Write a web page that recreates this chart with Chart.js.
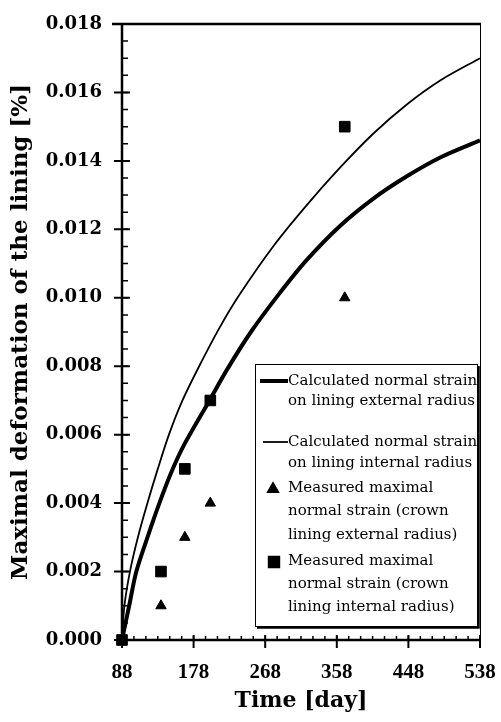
<!DOCTYPE html>
<html>
<head>
<meta charset="utf-8">
<script src="https://cdn.jsdelivr.net/npm/chart.js@4.4.0/dist/chart.umd.min.js"></script>
<style>
  body { margin: 0; background: #fff; }
  #wrap { width: 501px; height: 722px; }
</style>
</head>
<body>
<div id="wrap"><canvas id="myChart" width="501" height="722"></canvas></div>
<script>
// calculated strain curves (day / strain %)
var extDays = [88, 97, 106, 120, 135, 150, 166, 198, 220, 250, 285, 320, 362, 404, 446, 488, 538];
var extStrain = [0, 0.001, 0.002, 0.003, 0.004, 0.0049, 0.0057, 0.0070, 0.0079, 0.0090, 0.0101, 0.0111, 0.0121, 0.0129, 0.01355, 0.0141, 0.0146];
var intDays = [88, 91, 98, 108, 120, 133, 147, 164, 185, 210, 236, 278, 320, 362, 404, 446, 488, 538];
var intStrain = [0, 0.001, 0.002, 0.003, 0.004, 0.005, 0.006, 0.0070, 0.0080, 0.0091, 0.0101, 0.0115, 0.0127, 0.0138, 0.0148, 0.01565, 0.01635, 0.0170];

// measured values
var measDays = [88, 137, 167, 199, 368];
var measExt = [0, 0.001, 0.003, 0.004, 0.010];
var measInt = [0, 0.002, 0.005, 0.007, 0.015];

var xTicks = [88, 178, 268, 358, 448, 538];
var yTicks = [0, 0.002, 0.004, 0.006, 0.008, 0.010, 0.012, 0.014, 0.016, 0.018];

var legendText = [
    ['Calculated normal strain', 'on lining external radius'],
    ['Calculated normal strain', 'on lining internal radius'],
    ['Measured maximal', 'normal strain (crown', 'lining external radius)'],
    ['Measured maximal', 'normal strain (crown', 'lining internal radius)']
];

function pts(xs, ys) {
    return xs.map(function (x, i) { return { x: x, y: ys[i] }; });
}

// frame + crossing ticks like the printed figure
var axisDeco = {
    id: 'axisDeco',
    beforeDatasetsDraw: function (chart) {
        var ctx = chart.ctx, a = chart.chartArea, xs = chart.scales.x, ys = chart.scales.y;
        ctx.save();
        ctx.strokeStyle = '#000';
        ctx.lineWidth = 1;
        ctx.beginPath();
        ctx.moveTo(a.right + 0.5, a.top);
        ctx.lineTo(a.right + 0.5, a.bottom);
        ctx.stroke();

        ctx.lineWidth = 2.5;
        ctx.beginPath();
        ctx.moveTo(a.left - 10, a.top);
        ctx.lineTo(a.right + 1, a.top);
        ctx.moveTo(a.left, a.top);
        ctx.lineTo(a.left, a.bottom);
        ctx.lineTo(a.right + 1, a.bottom);
        ctx.stroke();

        var v, p;
        ctx.lineWidth = 2;
        ctx.beginPath();
        yTicks.forEach(function (t) {
            p = ys.getPixelForValue(t);
            ctx.moveTo(a.left - 8, p); ctx.lineTo(a.left + 8, p);
        });
        xTicks.forEach(function (t) {
            p = xs.getPixelForValue(t);
            ctx.moveTo(p, a.bottom - 5); ctx.lineTo(p, a.bottom + 8);
        });
        ctx.stroke();

        ctx.lineWidth = 1.5;
        ctx.beginPath();
        for (v = 0; v < 0.018; v += 0.0005) {
            p = ys.getPixelForValue(v);
            ctx.moveTo(a.left, p); ctx.lineTo(a.left + 6, p);
        }
        for (v = 88; v < 538; v += 15) {
            p = xs.getPixelForValue(v);
            ctx.moveTo(p, a.bottom - 4); ctx.lineTo(p, a.bottom);
        }
        ctx.stroke();
        ctx.restore();
    }
};

var legendBox = {
    id: 'legendBox',
    afterDraw: function (chart) {
        var ctx = chart.ctx;
        var bx = 255, by = 364, bw = 222, bh = 262;
        ctx.save();
        ctx.fillStyle = '#fff';
        ctx.fillRect(bx, by, bw, bh);
        ctx.strokeStyle = '#000';
        ctx.lineWidth = 1;
        ctx.strokeRect(bx + 0.5, by + 0.5, bw, bh);
        ctx.lineWidth = 2.5;
        ctx.beginPath();
        ctx.moveTo(bx + 2, by + bh + 1.5);
        ctx.lineTo(bx + bw + 1.5, by + bh + 1.5);
        ctx.lineTo(bx + bw + 1.5, by + 2);
        ctx.stroke();

        var rows = [[381, 401], [442, 463], [488, 511, 535], [561, 584, 607]];
        ctx.fillStyle = '#000';
        ctx.font = '15px "DejaVu Serif"';
        ctx.textBaseline = 'middle';
        ctx.textAlign = 'left';
        legendText.forEach(function (lines, i) {
            lines.forEach(function (s, j) {
                ctx.fillText(s, 288, rows[i][j]);
            });
        });

        ctx.lineWidth = 4;
        ctx.beginPath(); ctx.moveTo(260, 381); ctx.lineTo(288, 381); ctx.stroke();
        ctx.lineWidth = 1.8;
        ctx.beginPath(); ctx.moveTo(263, 442); ctx.lineTo(288, 442); ctx.stroke();
        Chart.helpers.drawPoint(ctx, { pointStyle: 'triangle', radius: 6, borderWidth: 1 }, 273, 489);
        ctx.fill();
        Chart.helpers.drawPoint(ctx, { pointStyle: 'rect', radius: 7.5, borderWidth: 1 }, 274, 562);
        ctx.fill();
        ctx.restore();
    }
};

var ctx = document.getElementById('myChart').getContext('2d');

var myChart = new Chart(ctx, {
    type: 'scatter',
    data: {
        datasets: [{
            label: 'Calculated normal strain on lining external radius',
            type: 'line',
            data: pts(extDays, extStrain),
            borderColor: '#000',
            borderWidth: 4,
            pointRadius: 0,
            tension: 0.3,
            fill: false
        },
        {
            label: 'Calculated normal strain on lining internal radius',
            type: 'line',
            data: pts(intDays, intStrain),
            borderColor: '#000',
            borderWidth: 1.8,
            pointRadius: 0,
            tension: 0.3,
            fill: false
        },
        {
            label: 'Measured maximal normal strain (crown lining external radius)',
            data: pts(measDays, measExt),
            pointStyle: 'triangle',
            pointRadius: 6,
            backgroundColor: '#000',
            borderColor: '#000',
            clip: false
        },
        {
            label: 'Measured maximal normal strain (crown lining internal radius)',
            data: pts(measDays, measInt),
            pointStyle: 'rect',
            pointRadius: 7.5,
            backgroundColor: '#000',
            borderColor: '#000',
            clip: false
        }]
    },
    options: {
        responsive: false,
        animation: false,
        layout: { padding: { left: 0, right: 21, top: 24, bottom: 0 } },
        plugins: {
            legend: { display: false },
            tooltip: { enabled: false }
        },
        scales: {
            x: {
                type: 'linear',
                min: 88,
                max: 538,
                afterBuildTicks: function (s) { s.ticks = xTicks.map(function (v) { return { value: v }; }); },
                afterFit: function (s) { s.height = 82; s.paddingLeft = 0; s.paddingRight = 0; },
                grid: { display: false, drawTicks: false },
                border: { display: false },
                ticks: {
                    color: '#000',
                    padding: 20,
                    maxRotation: 0,
                    font: { family: 'Liberation Serif', weight: 'bold', size: 21 }
                },
                title: {
                    display: true,
                    text: 'Time [day]',
                    color: '#000',
                    padding: { top: 0, bottom: 8 },
                    font: { family: 'DejaVu Serif', weight: 'bold', size: 22 }
                }
            },
            y: {
                type: 'linear',
                min: 0,
                max: 0.018,
                afterBuildTicks: function (s) { s.ticks = yTicks.map(function (v) { return { value: v }; }); },
                afterFit: function (s) { s.width = 122; s.paddingTop = 0; s.paddingBottom = 0; },
                grid: { display: false, drawTicks: false },
                border: { display: false },
                ticks: {
                    color: '#000',
                    padding: 20,
                    callback: function (v) { return v.toFixed(3); },
                    font: { family: 'DejaVu Serif', weight: 'bold', size: 18 }
                },
                title: {
                    display: true,
                    text: 'Maximal deformation of the lining [%]',
                    color: '#000',
                    padding: { top: 7, bottom: 0 },
                    font: { family: 'DejaVu Serif', weight: 'bold', size: 23 }
                }
            }
        }
    },
    plugins: [axisDeco, legendBox]
});
</script>
</body>
</html>
